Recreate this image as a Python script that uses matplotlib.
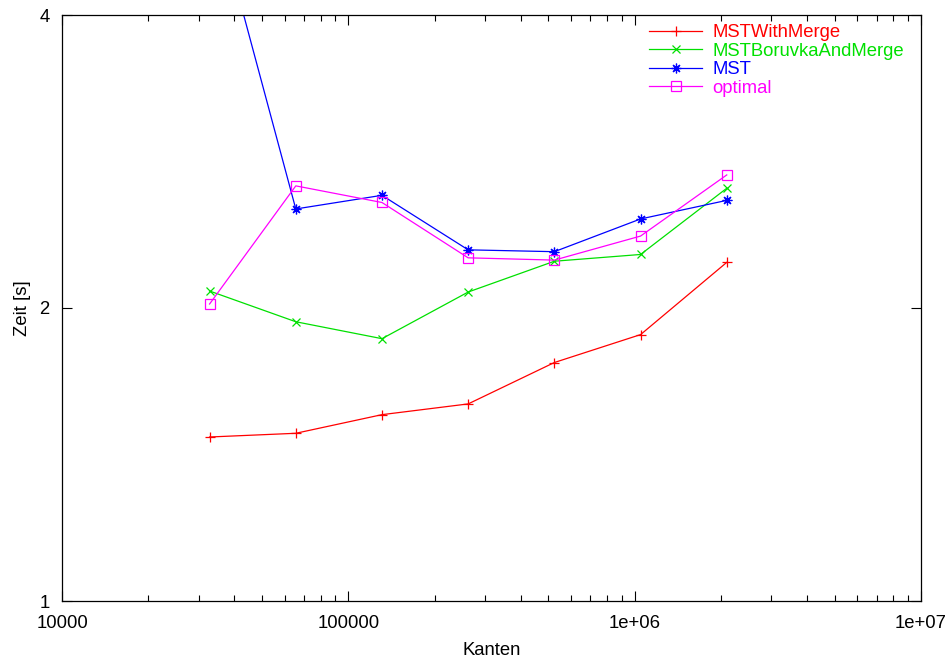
import matplotlib
matplotlib.use("Agg")
import matplotlib.pyplot as plt
from matplotlib.ticker import NullFormatter, LogLocator, NullLocator

plt.rcParams['font.family'] = ['Liberation Sans', 'DejaVu Sans']

edges = [32768, 65536, 131072, 262144, 524288, 1048576, 2097152]
mst_with_merge = [1.474, 1.487, 1.554, 1.594, 1.758, 1.878, 2.228]
mst_boruvka_and_merge = [2.082, 1.936, 1.860, 2.077, 2.234, 2.270, 2.655]
mst = [5.4, 2.528, 2.611, 2.295, 2.285, 2.469, 2.580]
optimal = [2.019, 2.670, 2.567, 2.252, 2.240, 2.371, 2.740]

series_labels = ["MSTWithMerge", "MSTBoruvkaAndMerge", "MST", "optimal"]
x_ticks = [1e4, 1e5, 1e6, 1e7]
x_tick_labels = ["10000", "100000", "1e+06", "1e+07"]
y_ticks = [1, 2, 4]
y_tick_labels = ["1", "2", "4"]

FS = 13.3
W, H = 952, 663
fig = plt.figure(figsize=(W / 100, H / 100), dpi=100)
ax = fig.add_axes([62 / W, (H - 601) / H, (921 - 62) / W, (601 - 15) / H])

styles = [
    dict(color='#ff0000', marker='+', markersize=7, mew=0.9),
    dict(color='#00e000', marker='x', markersize=6, mew=0.9),
    dict(color='#0000ff', marker=(8, 2, 0), markersize=7, mew=0.9),
    dict(color='#ff00ff', marker='s', markersize=6.5, mew=0.9, mfc='none'),
]
for ys, lab, st in zip([mst_with_merge, mst_boruvka_and_merge, mst, optimal], series_labels, styles):
    ax.plot(edges, ys, lw=0.9, label=lab, clip_on=True, **st)

ax.set_xscale('log')
ax.set_yscale('log', base=2)
ax.set_xlim(1e4, 1e7)
ax.set_ylim(1, 4)

ax.set_xticks(x_ticks, x_tick_labels)
ax.xaxis.set_minor_locator(LogLocator(base=10, subs=range(2, 10)))
ax.xaxis.set_minor_formatter(NullFormatter())
ax.set_yticks(y_ticks, y_tick_labels)
ax.yaxis.set_minor_locator(NullLocator())

ax.tick_params(which='both', direction='in', top=True, right=True, width=0.8, labelsize=FS)
ax.tick_params(axis='x', pad=10)
ax.tick_params(axis='y', pad=9)
ax.tick_params(which='major', length=7)
ax.tick_params(which='minor', length=4)
for s in ax.spines.values():
    s.set_linewidth(0.9)

ax.set_xlabel("Kanten", fontsize=FS, labelpad=7)
ax.set_ylabel("Zeit [s]", fontsize=FS, labelpad=6)

leg = ax.legend(loc='upper left', frameon=False, fontsize=FS,
                labelcolor='linecolor', handlelength=2.85, handletextpad=0.55,
                labelspacing=0.08, borderaxespad=0.0, borderpad=0.35)
leg.set_bbox_to_anchor((643 / W, (H - 18) / H), transform=fig.transFigure)

fig.savefig("out.png", dpi=100)
